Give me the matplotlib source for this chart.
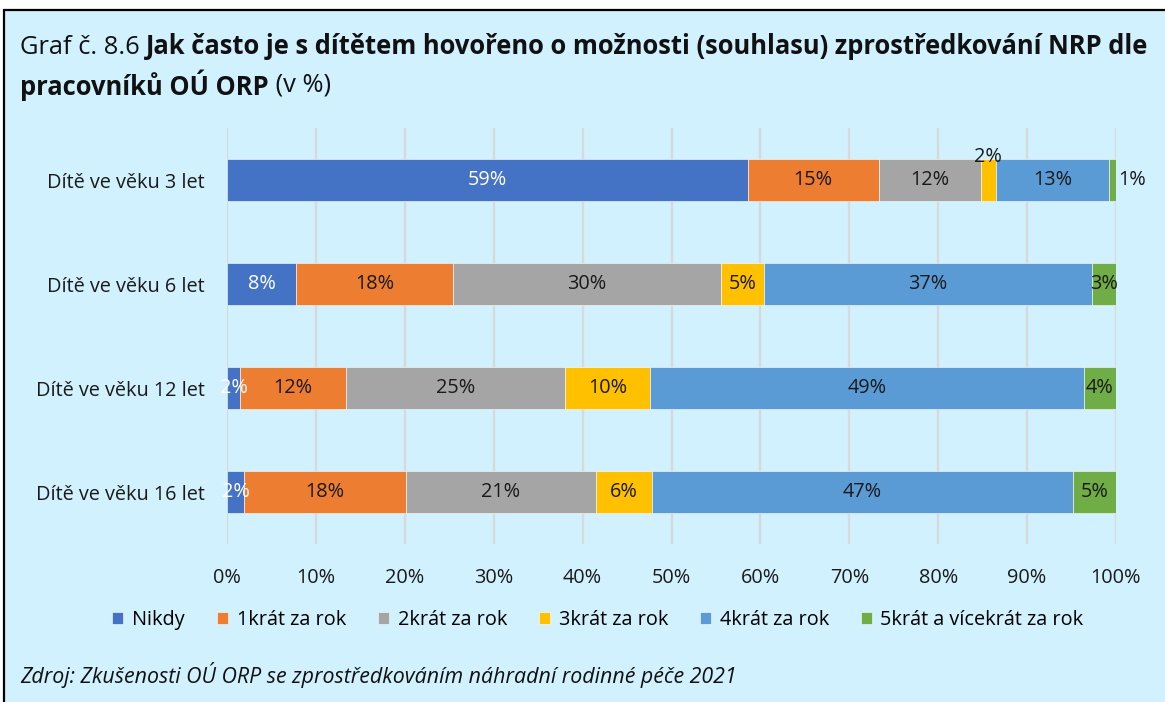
import numpy as np
import matplotlib.pyplot as plt
from matplotlib.patches import Rectangle

plt.rcParams['font.family'] = ['Open Sans', 'DejaVu Sans']

# data (share in %)
categories = ['Dítě ve věku 3 let', 'Dítě ve věku 6 let', 'Dítě ve věku 12 let', 'Dítě ve věku 16 let']
series = ['Nikdy', '1krát za rok', '2krát za rok', '3krát za rok', '4krát za rok', '5krát a vícekrát za rok']
nikdy = [58.6, 7.8, 1.5, 1.9]
k1 = [14.7, 17.6, 11.9, 18.2]
k2 = [11.5, 30.2, 24.6, 21.4]
k3 = [1.7, 4.8, 9.6, 6.3]
k4 = [12.7, 36.9, 48.8, 47.4]
k5 = [0.8, 2.7, 3.6, 4.8]
xticks = [0, 10, 20, 30, 40, 50, 60, 70, 80, 90, 100]

colors = ['#4472C4', '#ED7D31', '#A5A5A5', '#FFC000', '#5B9BD5', '#70AD47']
label_colors = ['white', '#1a1a1a', '#1a1a1a', '#1a1a1a', '#1a1a1a', '#1a1a1a']
bg = '#D0F1FD'
fs = 14.3

W, H = 1165, 702
fig = plt.figure(figsize=(W / 100, H / 100), dpi=100)
fig.patch.set_facecolor('white')

# light blue frame, cut off on the right and bottom
fig.patches.append(Rectangle((4 / W, -0.02), 1.05, 1 - 10 / H + 0.02, transform=fig.transFigure,
                             facecolor=bg, edgecolor='black', linewidth=1.6, zorder=-5))

ax = fig.add_axes([227 / W, 1 - 544 / H, (1116 - 227) / W, 416 / H])
ax.set_zorder(2)
ax.set_facecolor('none')

data = [nikdy, k1, k2, k3, k4, k5]
y = np.arange(len(categories))
left = np.zeros(len(categories))
for i, vals in enumerate(data):
    vals = np.array(vals)
    bars = ax.barh(y, vals, left=left, height=0.4, color=colors[i], edgecolor='white',
                   linewidth=0.4, label=series[i], zorder=3)
    for j, b in enumerate(bars):
        v = vals[j]
        cx = left[j] + v / 2
        cy = y[j]
        ha = 'center'
        if j == 0 and i == 3:
            cy = y[j] - 0.22
        if j == 0 and i == 5:
            cx = left[j] + v + 0.3
            ha = 'left'
        ax.text(cx, cy, f'{v:.0f}%', ha=ha, va='center', fontsize=fs,
                color=label_colors[i], zorder=4)
    left += vals

ax.set_xlim(0, 100)
ax.set_ylim(len(categories) - 0.5, -0.5)
ax.set_xticks(xticks)
ax.set_xticklabels([f'{t}%' for t in xticks], fontsize=fs, color='#1a1a1a')
ax.set_yticks(y)
ax.set_yticklabels(categories, fontsize=fs, color='#1a1a1a')
ax.tick_params(length=0)
ax.tick_params(axis='x', pad=17)
ax.tick_params(axis='y', pad=16)
ax.grid(axis='x', color='#D9D9D9', linewidth=1.6, zorder=0)
for s in ax.spines.values():
    s.set_visible(False)

# title with mixed weights
renderer = fig.canvas.get_renderer()
def put(parts, x, yy):
    for txt, weight in parts:
        t = fig.text(x, yy, txt, fontsize=18.4, fontweight=weight, color='#111111', va='center')
        bb = t.get_window_extent(renderer)
        x = bb.x1 / W
put([('Graf č. 8.6 ', 'normal'),
     ('Jak často je s dítětem hovořeno o možnosti (souhlasu) zprostředkování NRP dle', 'bold')],
    20 / W, 1 - 47 / H)
put([('pracovníků OÚ ORP', 'bold'), (' (v %)', 'normal')], 20 / W, 1 - 85 / H)

fig.legend(loc='center', bbox_to_anchor=(598 / W, 1 - 620 / H), ncol=6, frameon=False,
           fontsize=fs, handlelength=0.55, handleheight=0.55, handletextpad=0.45,
           columnspacing=1.6)

fig.text(20 / W, 1 - 675 / H, 'Zdroj: Zkušenosti OÚ ORP se zprostředkováním náhradní rodinné péče 2021',
         fontsize=15.4, style='italic', color='#111111', va='center')

fig.savefig('out.png', dpi=100, facecolor=fig.get_facecolor())
